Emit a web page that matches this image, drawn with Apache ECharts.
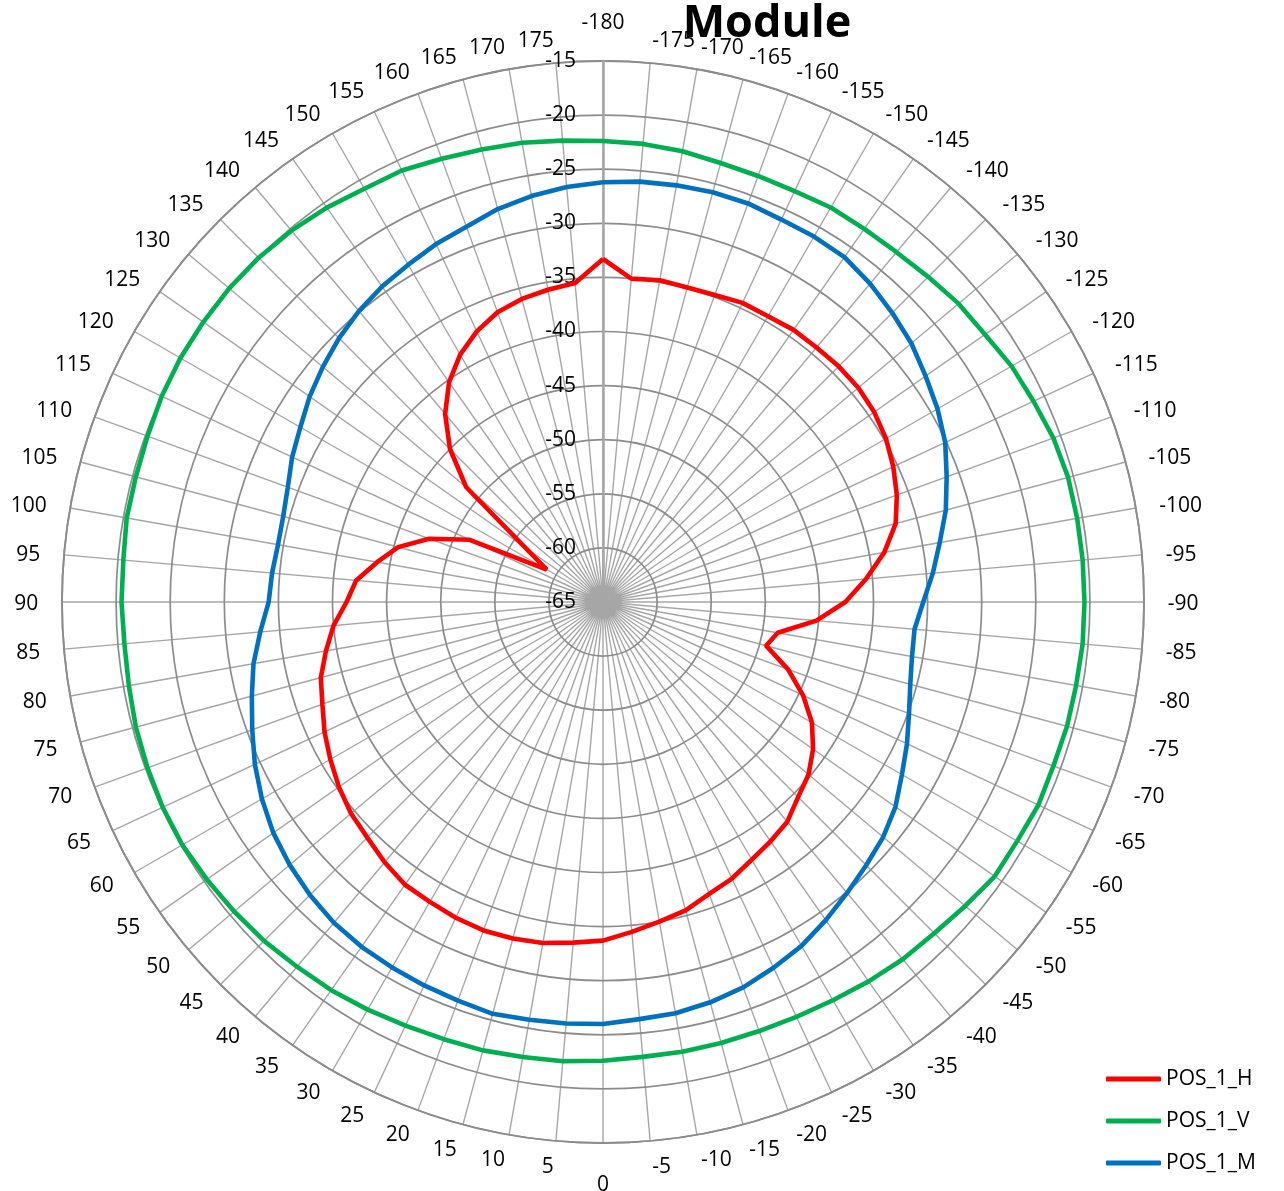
<!DOCTYPE html>
<html>
<head>
<meta charset="utf-8">
<title>Module</title>
<script src="https://cdn.jsdelivr.net/npm/echarts@6/dist/echarts.min.js"></script>
<style>
  html, body {
    margin: 0;
    padding: 0;
    background: #fff;
  }
  #chart {
    width: 1284px;
    height: 1191px;
  }
</style>
</head>
<body>
<div id="chart"></div>
<script>
// angle categories (deg), clockwise from the top
let angles = [
  -180, -175, -170, -165, -160, -155, -150, -145, -140, -135, -130, -125,
  -120, -115, -110, -105, -100, -95, -90, -85, -80, -75, -70, -65,
  -60, -55, -50, -45, -40, -35, -30, -25, -20, -15, -10, -5,
  0, 5, 10, 15, 20, 25, 30, 35, 40, 45, 50, 55,
  60, 65, 70, 75, 80, 85, 90, 95, 100, 105, 110, 115,
  120, 125, 130, 135, 140, 145, 150, 155, 160, 165, 170, 175
];

let seriesNames = ["POS_1_H", "POS_1_V", "POS_1_M"];

let pos1H = [
  -33.3, -35.0, -34.8, -34.9, -34.8, -34.5, -34.5, -34.3, -34.3, -34.2, -34.2, -34.4,
  -34.8, -35.4, -36.1, -37.0, -38.6, -40.6, -42.6, -45.2, -48.6, -49.4, -46.8, -44.6,
  -42.7, -41.3, -40.2, -39.5, -38.5, -38.0, -37.5, -36.8, -36.3, -35.5, -35.0, -34.4,
  -33.7, -33.4, -33.0, -32.8, -32.7, -32.8, -33.0, -33.1, -33.6, -34.2, -34.6, -35.2,
  -35.9, -36.6, -37.4, -38.0, -39.0, -40.0, -41.3, -42.1, -43.8, -45.4, -47.9, -51.4,
  -59.0, -56.2, -48.5, -45.0, -42.3, -40.2, -38.6, -37.4, -36.5, -36.0, -35.7, -35.4
];

let pos1V = [
  -22.4, -22.5, -22.7, -23.0, -23.1, -23.1, -22.9, -22.9, -22.8, -22.5, -22.1, -21.9,
  -21.4, -21.1, -20.7, -20.5, -20.5, -20.5, -20.5, -20.5, -20.6, -20.6, -20.7, -20.6,
  -20.8, -20.8, -21.3, -21.7, -21.9, -22.2, -22.5, -22.7, -22.8, -22.8, -22.8, -22.8,
  -22.6, -22.4, -22.3, -22.1, -22.0, -21.8, -21.5, -21.2, -21.0, -20.7, -20.5, -20.3,
  -20.1, -20.1, -20.2, -20.3, -20.5, -20.6, -20.5, -20.5, -20.3, -20.3, -20.2, -20.0,
  -19.9, -19.9, -19.9, -20.0, -20.2, -20.5, -20.9, -21.0, -21.4, -21.7, -21.9, -22.2
];

let pos1M = [
  -26.2, -26.0, -25.9, -25.8, -25.8, -26.0, -26.0, -26.1, -26.6, -27.2, -27.8, -28.6,
  -29.3, -30.1, -31.2, -32.2, -33.4, -34.4, -35.4, -36.1, -36.0, -35.6, -34.9, -34.0,
  -33.1, -32.0, -31.2, -30.6, -29.9, -29.1, -28.3, -27.7, -27.1, -26.7, -26.4, -26.3,
  -26.0, -25.9, -25.8, -25.6, -25.8, -25.9, -26.0, -26.1, -26.3, -26.7, -27.2, -27.8,
  -28.6, -29.5, -30.5, -31.4, -32.2, -33.2, -34.1, -34.3, -34.5, -34.4, -34.0, -33.3,
  -32.7, -31.9, -31.2, -30.5, -29.9, -29.4, -29.0, -28.5, -28.1, -27.4, -26.9, -26.5
];

// radial ticks (dB)
let radiusMin = -65;
let radiusMax = -15;
let radiusStep = 5;

let colorArr = ["#ff0000", "#00b050", "#0070c0"];

// [radius, angle] pairs; the -180 point is repeated at +180 so the ring closes
function closedLoop(values) {
  let pts = values.map(function (v, i) {
    return [v, angles[i]];
  });
  pts.push([values[0], -angles[0]]);
  return pts;
}

let myChart = echarts.init(document.getElementById("chart"));

let font = "'Open Sans', 'Noto Sans', sans-serif";

function lineSeries(idx, values) {
  return {
    name: seriesNames[idx],
    type: "line",
    coordinateSystem: "polar",
    symbol: "none",
    smooth: false,
    clip: false,
    color: colorArr[idx],
    lineStyle: { width: 4.6, color: colorArr[idx] },
    data: closedLoop(values),
    z: 3,
  };
}

myChart.setOption({
  animation: false,
  backgroundColor: "#fff",
  title: {
    text: "Module",
    left: 762,
    top: -3,
    textAlign: "center",
    textStyle: {
      fontFamily: font,
      fontSize: 45,
      fontWeight: "bold",
      color: "#000",
    },
  },
  legend: {
    orient: "vertical",
    left: 1106,
    top: 1067,
    padding: 0,
    itemWidth: 55,
    itemHeight: 5,
    itemGap: 18,
    icon: "roundRect",
    data: seriesNames,
    textStyle: {
      fontFamily: font,
      fontSize: 21,
      lineHeight: 24,
      color: "#000",
    },
  },
  polar: {
    center: [603, 602],
    radius: 541,
  },
  angleAxis: {
    type: "value",
    min: -180,
    max: 180,
    interval: 5,
    startAngle: 90,
    clockwise: true,
    z: 1,
    axisLine: {
      lineStyle: { color: "#8c8c8c", width: 1.8 },
    },
    axisTick: { show: false },
    // labels are placed below, excel style
    axisLabel: { show: false },
    splitLine: {
      show: true,
      lineStyle: { color: "#a6a6a6", width: 1.4 },
    },
  },
  radiusAxis: {
    type: "value",
    min: radiusMin,
    max: radiusMax,
    interval: radiusStep,
    z: 2,
    axisLine: {
      lineStyle: { color: "#a6a6a6", width: 2.5 },
    },
    axisTick: { show: false },
    axisLabel: {
      margin: 27,
      fontFamily: font,
      fontSize: 21,
      color: "#000",
    },
    splitLine: {
      show: true,
      lineStyle: { color: "#8c8c8c", width: 1.7 },
    },
  },
  series: [
    lineSeries(0, pos1H),
    lineSeries(1, pos1V),
    lineSeries(2, pos1M),
  ],
});

// angle labels: right aligned on the left half, left aligned on the right half,
// centred only straight up / straight down
let centre = myChart.convertToPixel({ seriesIndex: 0 }, [radiusMin, 0]);
let labelGraphics = angles.map(function (a) {
  let p = myChart.convertToPixel({ seriesIndex: 0 }, [-12.8, a]);
  let align = "center";
  if (p[0] > centre[0] + 1) align = "left";
  else if (p[0] < centre[0] - 1) align = "right";
  if (align === "center") {
    p = myChart.convertToPixel({ seriesIndex: 0 }, [-11.3, a]);
  }
  return {
    type: "text",
    x: p[0],
    y: p[1] + 2,
    silent: true,
    z: 10,
    style: {
      text: String(a),
      align: align,
      verticalAlign: "middle",
      fontFamily: font,
      fontSize: 21,
      fill: "#000",
    },
  };
});

myChart.setOption({ graphic: labelGraphics });
</script>
</body>
</html>
